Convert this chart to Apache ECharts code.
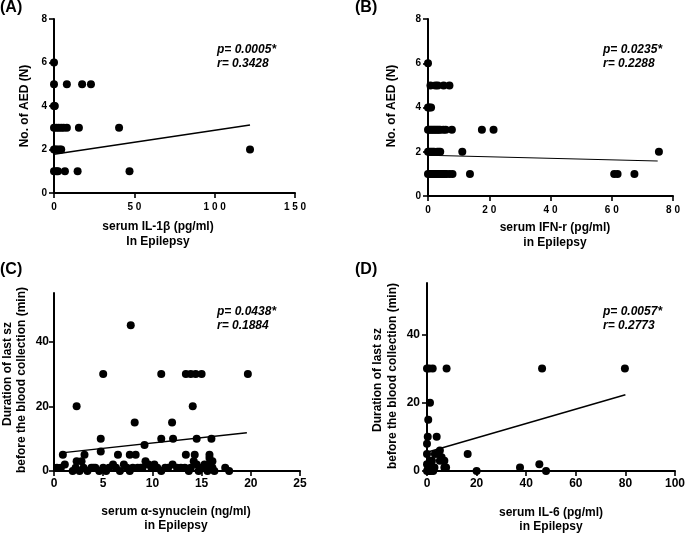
<!DOCTYPE html>
<html><head><meta charset="utf-8">
<script src="https://cdn.jsdelivr.net/npm/echarts@6/dist/echarts.min.js"></script>
<style>html,body{margin:0;padding:0;background:#fff}#c{width:685px;height:534px}</style>
</head><body><div id="c"></div>
<script>
// ---------- Panel A: serum IL-1β vs No. of AED ----------
const aX = [0, 0, 8, 17.5, 23, 0, 0.5, 0, 1.5, 3, 4.5, 6, 8, 15.5, 40.5, 0, 1, 2, 3.5, 4.5, 122, 0, 1.5, 2.5, 6.8, 14.7, 47];
const aY = [6, 5, 5, 5, 5, 4, 4, 3, 3, 3, 3, 3, 3, 3, 3, 2, 2, 2, 2, 2, 2, 1, 1, 1, 1, 1, 1];
const aFitX = [0, 122];
const aFitY = [1.78, 3.13];
const aXTicks = [0, 50, 100, 150];
const aYTicks = [0, 2, 4, 6, 8];
const aStats = ['p= 0.0005*', 'r= 0.3428'];

// ---------- Panel B: serum IFN-r vs No. of AED ----------
const bX = [0, 0.8, 2.4, 3.2, 5.1, 7, 0, 0.5, 1,
  0, 0.5, 1, 1.5, 2, 2.5, 3, 3.5, 4, 5, 5.8, 7.8, 17.6, 21.4,
  0, 0.5, 1, 1.5, 2, 3, 3.5, 4, 11.2, 75.4,
  0, 0.5, 1, 1.5, 2, 2.5, 3, 3.5, 4, 4.5, 5, 5.5, 6, 7, 8, 13.7, 60.8, 61.9, 67.4];
const bY = [6, 5, 5, 5, 5, 5, 4, 4, 4,
  3, 3, 3, 3, 3, 3, 3, 3, 3, 3, 3, 3, 3, 3,
  2, 2, 2, 2, 2, 2, 2, 2, 2, 2,
  1, 1, 1, 1, 1, 1, 1, 1, 1, 1, 1, 1, 1, 1, 1, 1, 1, 1, 1];
const bFitX = [0, 75];
const bFitY = [1.84, 1.58];
const bXTicks = [0, 20, 40, 60, 80];
const bYTicks = [0, 2, 4, 6, 8];
const bStats = ['p= 0.0235*', 'r= 0.2288'];

// ---------- Panel C: serum α-synuclein vs duration ----------
const cX = [7.8, 5.0, 10.9, 13.4, 13.9, 14.4, 15.0, 19.7,
  2.3, 14.1, 8.2, 12.0,
  4.75, 10.9, 12.1, 14.5, 16.0, 9.2, 4.75,
  0.9, 3.1, 6.5, 7.7, 8.3, 13.4, 14.3, 15.8, 15.8, 16.1,
  0.3, 0.7, 1.1, 2.3, 2.8, 1.9, 2.2, 2.6, 3.0, 3.4, 3.8, 4.2, 4.6, 5.0, 5.3, 5.6, 6.0, 6.3, 6.7,
  7.1, 7.4, 7.7, 8.0, 8.5, 8.8, 9.3, 9.6, 9.9, 10.2, 10.5, 10.9, 11.3, 12.05, 12.5, 12.9, 13.3,
  13.7, 13.9, 14.2, 14.5, 14.7, 15.0, 15.3, 15.6, 15.8, 16.1, 16.3, 17.4, 17.8, 4.0, 11.6, 9.0];
const cY = [45, 30, 30, 30, 30, 30, 30, 30,
  20, 20, 15, 15,
  10, 10, 10, 10, 10, 8, 6,
  5, 5, 5, 5, 5, 5, 5, 5, 4, 3,
  1, 1, 2, 3, 3, 0, 1, 0, 1, 0, 1, 1, 0, 1, 0, 1, 2, 1, 0,
  2, 1, 0, 1, 1, 1, 3, 2, 1, 2, 1, 0, 1, 2, 1, 1, 1,
  0, 1, 3, 2, 0, 1, 2, 0, 2, 1, 0, 1, 0, 1, 1, 1];
const cFitX = [0.75, 19.6];
const cFitY = [5.6, 11.8];
const cXTicks = [0, 5, 10, 15, 20, 25];
const cYTicks = [0, 20, 40];
const cStats = ['p= 0.0438*', 'r= 0.1884'];

// ---------- Panel D: serum IL-6 vs duration ----------
const dX = [0, 0.9, 2.3, 7.9, 46.4, 79.8,
  1.2, 0.5, 0.3, 3.9, 0, 5.2, 0, 3.2, 4.6, 16.4, 5.9, 1.2, 5.2, 7.0, 6.6,
  0, 1.5, 45.3, 37.5, 3, 7.0, 7.7, 0.5, 1.8, 20, 48, 0, 0.8, 1.5, 2.5, 1.0, 2.0];
const dY = [30, 30, 30, 30, 30, 30,
  20, 15, 10, 10, 8, 6, 5, 5, 5, 5, 4, 3, 3, 3, 3,
  2, 2, 2, 1, 1, 1, 1, 1, 1, 0, 0, 0, 0, 0, 0, 2, 3];
const dFitX = [0, 80];
const dFitY = [5.5, 22.3];
const dXTicks = [0, 20, 40, 60, 80, 100];
const dYTicks = [0, 20, 40];
const dStats = ['p= 0.0057*', 'r= 0.2773'];

const zip = (xs, ys) => xs.map((x, i) => [x, ys[i]]);
const FONT = 'Liberation Sans, Arial, sans-serif';
const spaced = v => String(v).split('').join(' ');

function xAxis(gi, max, ticks, small, margin) {
  return {
    type: 'value', gridIndex: gi, min: 0, max: max,
    axisLine: { show: true, onZero: false, lineStyle: { color: '#000', width: 2 } },
    axisTick: { show: true, length: 5, lineStyle: { color: '#000', width: 1.6 }, customValues: ticks },
    axisLabel: {
      show: true, customValues: ticks, margin: margin, color: '#000',
      fontFamily: FONT, fontWeight: 'bold', fontSize: small ? 10 : 12,
      formatter: small ? (v => spaced(v)) : (v => String(v))
    },
    splitLine: { show: false }
  };
}
function yAxis(gi, max, ticks, small, margin) {
  return {
    type: 'value', gridIndex: gi, min: 0, max: max,
    axisLine: { show: true, onZero: false, lineStyle: { color: '#000', width: 2 } },
    axisTick: { show: true, length: 5, lineStyle: { color: '#000', width: 1.6 }, customValues: ticks },
    axisLabel: {
      show: true, customValues: ticks, margin: margin, color: '#000',
      fontFamily: FONT, fontWeight: 'bold', fontSize: small ? 10 : 12
    },
    splitLine: { show: false }
  };
}
function scatter(gi, data) {
  return { type: 'scatter', xAxisIndex: gi, yAxisIndex: gi, data: data, symbol: 'circle',
    symbolSize: 8, itemStyle: { color: '#000', opacity: 1 }, clip: false, silent: true, z: 3 };
}
function fit(gi, xs, ys, w) {
  return { type: 'line', xAxisIndex: gi, yAxisIndex: gi, data: zip(xs, ys), showSymbol: false,
    lineStyle: { color: '#000', width: w }, clip: false, silent: true, z: 2 };
}
function txt(x, y, text, font, align) {
  return { type: 'text', x: x, y: y, silent: true,
    style: { text: text, font: font, fill: '#000', align: align || 'left', verticalAlign: 'middle' } };
}
function vtxt(x, y, text, font) {
  return { type: 'text', x: x, y: y, rotation: Math.PI / 2, silent: true,
    style: { text: text, font: font, fill: '#000', align: 'center', verticalAlign: 'middle' } };
}
const TF = 'bold 12px ' + FONT;
const SF = 'italic bold 12px ' + FONT;
const PF = 'bold 16px ' + FONT;

const option = {
  backgroundColor: '#fff',
  animation: false,
  grid: [
    { left: 54, top: 19, width: 241, height: 174, outerBoundsMode: 'none' },
    { left: 428, top: 19, width: 245, height: 177, outerBoundsMode: 'none' },
    { left: 54, top: 293, width: 246, height: 178, outerBoundsMode: 'none' },
    { left: 427, top: 283, width: 248, height: 188, outerBoundsMode: 'none' }
  ],
  xAxis: [
    xAxis(0, 150, aXTicks, true, 9),
    xAxis(1, 80, bXTicks, true, 9),
    xAxis(2, 25, cXTicks, false, 7),
    xAxis(3, 100, dXTicks, false, 7)
  ],
  yAxis: [
    yAxis(0, 8, aYTicks, true, 7),
    yAxis(1, 8, bYTicks, true, 7),
    yAxis(2, 55, cYTicks, false, 5),
    yAxis(3, 55, dYTicks, false, 7)
  ],
  series: [
    scatter(0, zip(aX, aY)), fit(0, aFitX, aFitY, 1.5),
    scatter(1, zip(bX, bY)), fit(1, bFitX, bFitY, 1.1),
    scatter(2, zip(cX, cY)), fit(2, cFitX, cFitY, 1.5),
    scatter(3, zip(dX, dY)), fit(3, dFitX, dFitY, 1.5)
  ],
  graphic: [
    txt(0, 8, '(A)', PF), txt(355, 8, '(B)', PF),
    txt(0, 270, '(C)', PF), txt(355, 270, '(D)', PF),
    txt(217, 50, aStats[0], SF), txt(217, 64, aStats[1], SF),
    txt(603, 50, bStats[0], SF), txt(603, 64, bStats[1], SF),
    txt(217, 312, cStats[0], SF), txt(217, 326, cStats[1], SF),
    txt(603, 312, dStats[0], SF), txt(603, 326, dStats[1], SF),
    txt(158, 227, 'serum IL-1β (pg/ml)', TF, 'center'), txt(158, 242, 'In Epilepsy', TF, 'center'),
    txt(555, 228, 'serum IFN-r (pg/ml)', TF, 'center'), txt(555, 243, 'in Epilepsy', TF, 'center'),
    txt(176, 512, 'serum α-synuclein (ng/ml)', TF, 'center'), txt(176, 526, 'in Epilepsy', TF, 'center'),
    txt(551, 513, 'serum IL-6 (pg/ml)', TF, 'center'), txt(551, 527, 'in Epilepsy', TF, 'center'),
    vtxt(25, 106, 'No. of AED (N)', TF),
    vtxt(392, 106, 'No. of AED (N)', TF),
    vtxt(8, 374, 'Duration of last sz', TF),
    vtxt(22, 380, 'before the blood collection (min)', TF),
    vtxt(378, 380, 'Duration of last sz', TF),
    vtxt(393, 376, 'before the blood collection (min)', TF)
  ]
};
const chart = echarts.init(document.getElementById('c'), null, { renderer: 'canvas' });
chart.setOption(option);
</script></body></html>
